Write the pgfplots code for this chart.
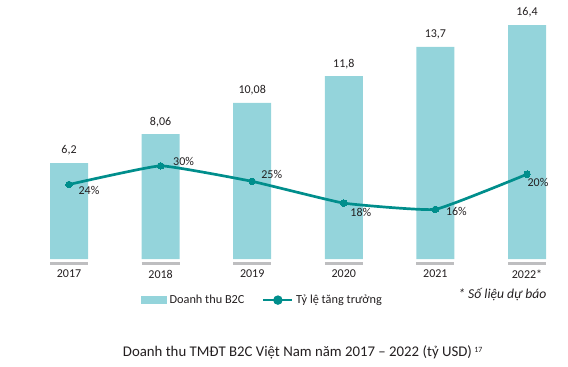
\documentclass[border=0pt]{standalone}
\usepackage{pgfplots}
\pgfplotsset{compat=1.18}
\usepackage{fontspec}
\setmainfont{Carlito}
\definecolor{barc}{RGB}{148,212,219}
\definecolor{linec}{RGB}{0,142,140}
\definecolor{txt}{RGB}{35,31,32}
\definecolor{basec}{RGB}{190,190,192}
\newcommand{\lf}{\fontsize{12}{14}\selectfont}
\begin{document}
\begin{tikzpicture}[x=1pt,y=1pt]
\begin{axis}[
  at={(0,0)}, anchor=south west,
  scale only axis, width=568pt, height=366pt,
  xmin=-0.7533, xmax=5.4476,
  ymin=-6.903, ymax=16.710,
  axis line style={draw=none},
  ytick=\empty,
  xtick={0,1,2,3,4,5},
  xticklabels={2017,2018,2019,2020,2021,2022*},
  major tick length=0pt,
  xticklabel style={anchor=center, yshift=92pt, font=\lf, text=txt},
  clip=false,
]
\addplot[ybar, bar width=38pt, fill=barc, draw=none,
  nodes near coords, point meta=explicit symbolic,
  every node near coord/.append style={anchor=center, yshift=12.5pt, font=\lf, text=txt}]
  table[meta=label] {
x y label
0 6.2 6,2
1 8.06 8,06
2 10.08 10,08
3 11.8 11,8
4 13.7 13,7
5 15.1 16,4
};
\addplot[basec, line width=2.4pt, unbounded coords=jump] table {
x y
-0.2074 -0.29
0.2074 -0.29
0.5 nan
0.7926 -0.29
1.2074 -0.29
1.5 nan
1.7926 -0.29
2.2074 -0.29
2.5 nan
2.7926 -0.29
3.2074 -0.29
3.5 nan
3.7926 -0.29
4.2074 -0.29
4.5 nan
4.7926 -0.29
5.2074 -0.29
};
\end{axis}
\begin{axis}[
  at={(0,0)}, anchor=south west,
  scale only axis, width=568pt, height=366pt,
  xmin=-0.7533, xmax=5.4476,
  ymin=-34.43, ymax=83.33,
  hide axis, clip=false,
  legend columns=2,
  legend style={at={(0.2482,0.1803)}, anchor=west, draw=none, fill=none,
    inner sep=0pt, font=\fontsize{12.3}{14}\selectfont, text=txt,
    nodes={inner xsep=3pt, inner ysep=1pt},
    /tikz/column 2/.style={column sep=14.5pt}},
]
\addlegendimage{legend image code/.code={\fill[barc] (0pt,-3.5pt) rectangle (25pt,3.5pt);}}
\addlegendentry{Doanh thu B2C}
\addplot[linec, line width=2.7pt, smooth, tension=0.2, mark=*, mark size=3.3pt,
  mark options={solid, fill=linec, draw=linec, line width=0pt},
  legend image code/.code={\draw[linec, line width=2.7pt] (0pt,0pt)--(28.5pt,0pt); \fill[linec] (14.5pt,0pt) circle (3.3pt);}]
  coordinates {(0,24) (1,30) (2,25) (3,18) (4,16) (5,27.3)};
\addlegendentry{Tỷ lệ tăng trưởng}
\node[font=\lf, text=txt, xshift=20pt, yshift=-6pt] at (axis cs:0,24) {24\%};
\node[font=\lf, text=txt, xshift=23pt, yshift=4.7pt] at (axis cs:1,30) {30\%};
\node[font=\lf, text=txt, xshift=19.5pt, yshift=7pt] at (axis cs:2,25) {25\%};
\node[font=\lf, text=txt, xshift=17pt, yshift=-9pt] at (axis cs:3,18) {18\%};
\node[font=\lf, text=txt, xshift=21pt, yshift=-2pt] at (axis cs:4,16) {16\%};
\node[font=\lf, text=txt, xshift=11pt, yshift=-8.7pt] at (axis cs:5,27.3) {20\%};
\end{axis}
\node[anchor=east, font=\fontsize{13.6}{15}\selectfont\itshape, text=txt, inner sep=0pt] at (546.5,72) {* Số liệu dự báo};
\node[anchor=west, font=\fontsize{14.8}{16}\selectfont, text=txt, inner sep=0pt] at (122.7,14) {Doanh thu TMĐT B2C Việt Nam năm 2017 – 2022 (tỷ USD)\,\raisebox{0.55ex}{\fontsize{8}{9}\selectfont 17}};
\end{tikzpicture}
\end{document}
